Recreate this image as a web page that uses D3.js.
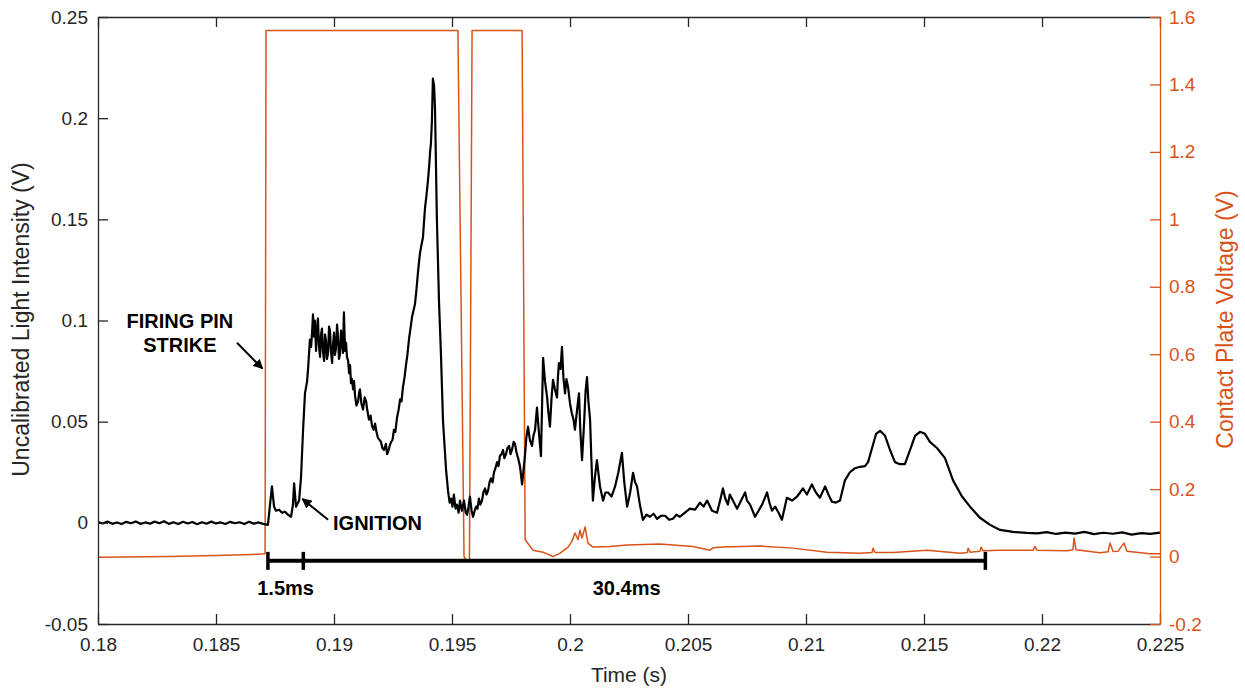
<!DOCTYPE html>
<html>
<head>
<meta charset="utf-8">
<script src="https://cdn.jsdelivr.net/npm/d3@7"></script>
<style>
  html, body { margin: 0; padding: 0; background: #fff; }
  svg { display: block; }
  text { font-family: "Liberation Sans", Arial, Helvetica, sans-serif; }
</style>
</head>
<body>
<svg id="chart" width="1245" height="688"></svg>
<script>
// ---- data ---------------------------------------------------------------
// time axis (s)
const timeTicks = [0.18, 0.185, 0.19, 0.195, 0.2, 0.205, 0.21, 0.215, 0.22, 0.225];
const lightTicks = [-0.05, 0, 0.05, 0.1, 0.15, 0.2, 0.25];
const plateTicks = [-0.2, 0, 0.2, 0.4, 0.6, 0.8, 1, 1.2, 1.4, 1.6];

// photodiode output: [time (s), uncalibrated light intensity (V)]
const lightTrace = [
  [0.1800, 0.0004], [0.1802, -0.0003], [0.1804, 0.0006], [0.1806, -0.0005], [0.1808, 0.0002],
  [0.1810, -0.0006], [0.1812, 0.0005], [0.1814, -0.0002], [0.1816, 0.0007], [0.1818, -0.0005],
  [0.1820, 0.0002], [0.1822, -0.0004], [0.1824, 0.0006], [0.1826, -0.0002], [0.1828, 0.0008],
  [0.1830, -0.0005], [0.1832, 0.0003], [0.1834, -0.0006], [0.1836, 0.0005], [0.1838, -0.0003],
  [0.1840, 0.0004], [0.1842, -0.0007], [0.1844, 0.0003], [0.1846, -0.0004], [0.1848, 0.0006],
  [0.1850, -0.0003], [0.1852, 0.0002], [0.1854, -0.0006], [0.1856, 0.0005], [0.1858, -0.0002],
  [0.1860, 0.0003], [0.1862, -0.0006], [0.1864, 0.0005], [0.1866, -0.0004], [0.1868, 0.0002],
  [0.1870, -0.0005], [0.18720, -0.0010],
  [0.18737, 0.0180], [0.18746, 0.0080], [0.18754, 0.0060], [0.18767, 0.0065], [0.18780, 0.0050],
  [0.18792, 0.0055], [0.18805, 0.0040], [0.18818, 0.0030], [0.18826, 0.0090], [0.18831, 0.0195],
  [0.18839, 0.0080], [0.18852, 0.0110], [0.18860, 0.0220], [0.18869, 0.0460], [0.18877, 0.0640],
  [0.18886, 0.0700], [0.18890, 0.0760], [0.18898, 0.0905], [0.18903, 0.0870], [0.18907, 0.0940],
  [0.18911, 0.1030], [0.18915, 0.0920], [0.18919, 0.1000], [0.18924, 0.0850], [0.18928, 0.0960],
  [0.18932, 0.1010], [0.18936, 0.0880], [0.18941, 0.0820], [0.18945, 0.0930], [0.18949, 0.0960],
  [0.18953, 0.0850], [0.18958, 0.0800], [0.18962, 0.0930], [0.18966, 0.0900], [0.18970, 0.0810],
  [0.18975, 0.0840], [0.18979, 0.0970], [0.18983, 0.0950], [0.18987, 0.0850], [0.18992, 0.0790],
  [0.18996, 0.0880], [0.19000, 0.0940], [0.19004, 0.0830], [0.19008, 0.0860], [0.19013, 0.0980],
  [0.19017, 0.0920], [0.19021, 0.0810], [0.19025, 0.0830], [0.19030, 0.0950], [0.19034, 0.0900],
  [0.19038, 0.0840], [0.19042, 0.1040], [0.19047, 0.0850], [0.19051, 0.0890], [0.19055, 0.0820],
  [0.19060, 0.0800], [0.19064, 0.0740], [0.19068, 0.0780], [0.19072, 0.0690], [0.19076, 0.0710],
  [0.19081, 0.0660], [0.19085, 0.0700], [0.19089, 0.0630], [0.19095, 0.0580], [0.19102, 0.0600],
  [0.19106, 0.0640], [0.19110, 0.0660], [0.19116, 0.0590], [0.19123, 0.0560], [0.19130, 0.0620],
  [0.19136, 0.0600], [0.19142, 0.0550], [0.19148, 0.0510], [0.19155, 0.0530], [0.19161, 0.0480],
  [0.19168, 0.0460], [0.19174, 0.0490], [0.19180, 0.0450], [0.19186, 0.0420], [0.19193, 0.0410],
  [0.19199, 0.0400], [0.19205, 0.0370], [0.19212, 0.0360], [0.19220, 0.0390], [0.19225, 0.0340],
  [0.19229, 0.0350], [0.19236, 0.0380], [0.19242, 0.0400], [0.19248, 0.0410], [0.19254, 0.0460],
  [0.19260, 0.0450], [0.19267, 0.0520], [0.19274, 0.0560], [0.19280, 0.0610], [0.19286, 0.0600],
  [0.19292, 0.0670], [0.19299, 0.0720], [0.19305, 0.0780], [0.19311, 0.0830], [0.19318, 0.0910],
  [0.19324, 0.0960], [0.19331, 0.1020], [0.19337, 0.1050], [0.19343, 0.1080], [0.19350, 0.1160],
  [0.19356, 0.1240], [0.19364, 0.1330], [0.19370, 0.1370], [0.19377, 0.1410], [0.19381, 0.1480],
  [0.19386, 0.1560], [0.19392, 0.1620], [0.19398, 0.1690], [0.19403, 0.1760], [0.19407, 0.1830],
  [0.19411, 0.1880], [0.19415, 0.1990], [0.19419, 0.2195], [0.19424, 0.2160], [0.19428, 0.2050],
  [0.19436, 0.1500], [0.19445, 0.1090], [0.19453, 0.0840], [0.19462, 0.0500], [0.19475, 0.0260],
  [0.19483, 0.0160], [0.19490, 0.0100], [0.19496, 0.0120], [0.19502, 0.0080], [0.19508, 0.0140],
  [0.19515, 0.0070], [0.19521, 0.0090], [0.19528, 0.0050], [0.19534, 0.0110], [0.19542, 0.0060],
  [0.19551, 0.0110], [0.19558, 0.0050], [0.19564, 0.0040], [0.19570, 0.0080], [0.19576, 0.0130],
  [0.19583, 0.0060], [0.19589, 0.0030], [0.19596, 0.0060], [0.19602, 0.0080], [0.19608, 0.0070],
  [0.19614, 0.0120], [0.19620, 0.0090], [0.19627, 0.0110], [0.19633, 0.0150], [0.19640, 0.0170],
  [0.19646, 0.0140], [0.19653, 0.0160], [0.19659, 0.0200], [0.19665, 0.0220], [0.19672, 0.0200],
  [0.19678, 0.0250], [0.19684, 0.0270], [0.19691, 0.0300], [0.19697, 0.0280], [0.19703, 0.0330],
  [0.19710, 0.0340], [0.19716, 0.0360], [0.19722, 0.0320], [0.19729, 0.0340], [0.19735, 0.0370],
  [0.19742, 0.0380], [0.19748, 0.0340], [0.19754, 0.0360], [0.19761, 0.0400], [0.19767, 0.0390],
  [0.19773, 0.0350], [0.19780, 0.0320], [0.19788, 0.0280], [0.19797, 0.0190], [0.19803, 0.0260],
  [0.19809, 0.0330], [0.19815, 0.0420], [0.19822, 0.0475], [0.19830, 0.0410], [0.19839, 0.0380],
  [0.19845, 0.0430], [0.19852, 0.0460], [0.19860, 0.0570], [0.19868, 0.0450], [0.19877, 0.0330],
  [0.19882, 0.0600], [0.19886, 0.0816], [0.19894, 0.0700], [0.19903, 0.0620], [0.19909, 0.0540],
  [0.19915, 0.0475], [0.19922, 0.0620], [0.19928, 0.0707], [0.19936, 0.0660], [0.19945, 0.0620],
  [0.19949, 0.0720], [0.19953, 0.0790], [0.19960, 0.0760], [0.19966, 0.0870], [0.19972, 0.0720],
  [0.19979, 0.0640], [0.19985, 0.0710], [0.19992, 0.0670], [0.20000, 0.0590], [0.20008, 0.0540],
  [0.20015, 0.0510], [0.20021, 0.0460], [0.20030, 0.0560], [0.20038, 0.0640], [0.20044, 0.0450],
  [0.20051, 0.0310], [0.20060, 0.0500], [0.20066, 0.0650], [0.20072, 0.0720], [0.20078, 0.0600],
  [0.20085, 0.0510], [0.20091, 0.0300], [0.20097, 0.0110], [0.20105, 0.0220], [0.20114, 0.0310],
  [0.20127, 0.0180], [0.20140, 0.0110], [0.20150, 0.0150], [0.20161, 0.0150], [0.20176, 0.0130],
  [0.20191, 0.0180], [0.20205, 0.0250], [0.20220, 0.0346], [0.20230, 0.0200], [0.20242, 0.0080],
  [0.20255, 0.0150], [0.20267, 0.0247], [0.20276, 0.0200], [0.20284, 0.0180], [0.20296, 0.0090],
  [0.20309, 0.0015], [0.20324, 0.0040], [0.20339, 0.0030], [0.20354, 0.0045], [0.20369, 0.0020],
  [0.20386, 0.0035], [0.20403, 0.0035], [0.20420, 0.0015], [0.20436, 0.0020], [0.20451, 0.0040],
  [0.20466, 0.0030], [0.20487, 0.0050], [0.20508, 0.0070], [0.20530, 0.0065], [0.20551, 0.0100],
  [0.20566, 0.0080], [0.20581, 0.0110], [0.20602, 0.0060], [0.20623, 0.0050], [0.20636, 0.0110],
  [0.20648, 0.0170], [0.20658, 0.0120], [0.20669, 0.0090], [0.20677, 0.0140], [0.20686, 0.0120],
  [0.20708, 0.0070], [0.20725, 0.0110], [0.20742, 0.0150], [0.20750, 0.0110], [0.20763, 0.0090],
  [0.20784, 0.0030], [0.20799, 0.0060], [0.20814, 0.0090], [0.20835, 0.0150], [0.20845, 0.0100],
  [0.20856, 0.0060], [0.20869, 0.0080], [0.20884, 0.0050], [0.20898, 0.0015], [0.20919, 0.0124],
  [0.20941, 0.0110], [0.20962, 0.0130], [0.20975, 0.0150], [0.20987, 0.0170], [0.21004, 0.0140],
  [0.21025, 0.0190], [0.21042, 0.0150], [0.21059, 0.0124], [0.21081, 0.0180], [0.21095, 0.0140],
  [0.21110, 0.0104], [0.21127, 0.0100], [0.21144, 0.0110], [0.21165, 0.0210], [0.21186, 0.0250],
  [0.21208, 0.0270], [0.21229, 0.0277], [0.21250, 0.0280], [0.21263, 0.0300], [0.21280, 0.0370],
  [0.21297, 0.0440], [0.21314, 0.0455], [0.21335, 0.0430], [0.21356, 0.0360], [0.21377, 0.0300],
  [0.21398, 0.0290], [0.21419, 0.0290], [0.21441, 0.0360], [0.21462, 0.0430], [0.21483, 0.0450],
  [0.21504, 0.0440], [0.21525, 0.0400], [0.21555, 0.0370], [0.21589, 0.0320], [0.21623, 0.0210],
  [0.21661, 0.0130], [0.21695, 0.0080], [0.21737, 0.0025], [0.21780, -0.0010], [0.21822, -0.0035],
  [0.21877, -0.0045], [0.21936, -0.0050], [0.2198, -0.0052], [0.2202, -0.0046], [0.2206, -0.0055],
  [0.2210, -0.0048], [0.2214, -0.0053], [0.2218, -0.0045], [0.2222, -0.0056], [0.2226, -0.0049],
  [0.2230, -0.0054], [0.2234, -0.0047], [0.2238, -0.0058], [0.2242, -0.0051], [0.2246, -0.0055],
  [0.2250, -0.0048]
];

// contact plate: [time (s), voltage (V)]
const plateTrace = [
  [0.1800, -0.002], [0.1830, 0.000], [0.1850, 0.003], [0.1865, 0.006], [0.18708, 0.008],
  [0.18712, 1.56], [0.19525, 1.56], [0.19551, 0.000], [0.19560, -0.010], [0.19574, -0.010],
  [0.19585, 1.56], [0.19797, 1.56], [0.19810, 0.050], [0.19843, 0.019], [0.19886, 0.013],
  [0.19928, 0.000], [0.19958, 0.010], [0.19992, 0.028], [0.20008, 0.045], [0.20021, 0.070],
  [0.20034, 0.050], [0.20042, 0.078], [0.20051, 0.055], [0.20064, 0.0875], [0.20076, 0.040],
  [0.20097, 0.028], [0.20169, 0.030], [0.20242, 0.034], [0.20381, 0.037], [0.20521, 0.030],
  [0.20593, 0.019], [0.20606, 0.026], [0.20648, 0.028], [0.20805, 0.031], [0.20945, 0.025],
  [0.21089, 0.013], [0.21229, 0.010], [0.21280, 0.012], [0.21284, 0.025], [0.21292, 0.012],
  [0.21369, 0.012], [0.21513, 0.019], [0.21653, 0.010], [0.21683, 0.012], [0.21687, 0.025],
  [0.21695, 0.013], [0.21737, 0.016], [0.21742, 0.028], [0.21750, 0.017], [0.21822, 0.019],
  [0.21962, 0.019], [0.21970, 0.030], [0.21979, 0.019], [0.22106, 0.017], [0.22131, 0.020],
  [0.22136, 0.055], [0.22144, 0.020], [0.22246, 0.011], [0.22280, 0.014], [0.22288, 0.040],
  [0.22301, 0.015], [0.22322, 0.016], [0.22347, 0.040], [0.22360, 0.016], [0.22458, 0.008],
  [0.22500, 0.008]
];

// timing bracket: firing pin strike time (s) and durations (ms)
const strikeTime = 0.1872;
const intervalsMs = [1.5, 30.4];

// ---- layout -------------------------------------------------------------
const plot = { left: 98, right: 1160, top: 17, bottom: 624 };
const ink = "#262626";
const orange = "#D95319";

const svg = d3.select("#chart");

const x = d3.scaleLinear().domain([0.18, 0.225]).range([plot.left, plot.right]);
const yL = d3.scaleLinear().domain([-0.05, 0.25]).range([plot.bottom, plot.top]);
const yR = d3.scaleLinear().domain([-0.2, 1.6]).range([plot.bottom, plot.top]);

// plain tick numbers with an ASCII minus sign
const fmt = d => String(+d.toFixed(4));

const defs = svg.append("defs");
defs.append("clipPath").attr("id", "plotClip")
  .append("rect")
  .attr("x", plot.left).attr("y", plot.top)
  .attr("width", plot.right - plot.left).attr("height", plot.bottom - plot.top);

defs.append("marker")
  .attr("id", "arrowHead")
  .attr("viewBox", "0 0 10 10")
  .attr("refX", 9).attr("refY", 5)
  .attr("markerWidth", 5).attr("markerHeight", 5)
  .attr("markerUnits", "strokeWidth")
  .attr("orient", "auto")
  .append("path").attr("d", "M0,0 L10,5 L0,10 z").attr("fill", "#000");

// ---- traces -------------------------------------------------------------
const traces = svg.append("g").attr("clip-path", "url(#plotClip)");

traces.append("path")
  .datum(plateTrace)
  .attr("fill", "none")
  .attr("stroke", orange)
  .attr("stroke-width", 1.5)
  .attr("stroke-linejoin", "round")
  .attr("d", d3.line().x(d => x(d[0])).y(d => yR(d[1])));

traces.append("path")
  .datum(lightTrace)
  .attr("fill", "none")
  .attr("stroke", "#000")
  .attr("stroke-width", 2.2)
  .attr("stroke-linejoin", "round")
  .attr("d", d3.line().x(d => x(d[0])).y(d => yL(d[1])));

// ---- axes ---------------------------------------------------------------
const tickLen = 10;

const styleAxis = (g, color) => {
  g.select(".domain").attr("stroke", color).attr("stroke-width", 1.3);
  g.selectAll(".tick line").attr("stroke", color).attr("stroke-width", 1.3);
  g.selectAll(".tick text").attr("fill", color).attr("font-size", 19)
    .attr("font-family", "Liberation Sans, Arial, sans-serif");
};

svg.append("g")
  .attr("transform", `translate(0,${plot.bottom})`)
  .call(d3.axisBottom(x).tickValues(timeTicks).tickFormat(fmt)
    .tickSizeInner(-tickLen).tickSizeOuter(0).tickPadding(14))
  .call(g => styleAxis(g, ink));

svg.append("g")
  .attr("transform", `translate(0,${plot.top})`)
  .call(d3.axisTop(x).tickValues(timeTicks).tickFormat("")
    .tickSizeInner(-tickLen).tickSizeOuter(0))
  .call(g => styleAxis(g, ink));

svg.append("g")
  .attr("transform", `translate(${plot.left},0)`)
  .call(d3.axisLeft(yL).tickValues(lightTicks).tickFormat(fmt)
    .tickSizeInner(-tickLen).tickSizeOuter(0).tickPadding(10))
  .call(g => styleAxis(g, ink));

svg.append("g")
  .attr("transform", `translate(${plot.right},0)`)
  .call(d3.axisRight(yR).tickValues(plateTicks).tickFormat(fmt)
    .tickSizeInner(-tickLen).tickSizeOuter(0).tickPadding(9))
  .call(g => styleAxis(g, orange));

// axis titles
const midY = (plot.top + plot.bottom) / 2 - 1;

svg.append("text")
  .attr("x", (plot.left + plot.right) / 2).attr("y", 682)
  .attr("text-anchor", "middle").attr("font-size", 21).attr("fill", ink)
  .text("Time (s)");

svg.append("text")
  .attr("transform", `translate(29,${midY}) rotate(-90)`)
  .attr("text-anchor", "middle").attr("font-size", 23).attr("fill", ink)
  .text("Uncalibrated Light Intensity (V)");

svg.append("text")
  .attr("transform", `translate(1233,${midY}) rotate(-90)`)
  .attr("text-anchor", "middle").attr("font-size", 23).attr("fill", orange)
  .text("Contact Plate Voltage (V)");

// ---- annotations ----------------------------------------------------------
const notes = svg.append("g").attr("font-weight", "bold").attr("font-size", 20).attr("fill", "#000");

notes.append("text").attr("x", x(0.18347)).attr("y", yL(0.0964))
  .attr("text-anchor", "middle").text("FIRING PIN");
notes.append("text").attr("x", x(0.18347)).attr("y", yL(0.0845))
  .attr("text-anchor", "middle").text("STRIKE");

notes.append("line")
  .attr("x1", x(0.18589)).attr("y1", yL(0.089))
  .attr("x2", x(0.18697)).attr("y2", yL(0.0762))
  .attr("stroke", "#000").attr("stroke-width", 2)
  .attr("marker-end", "url(#arrowHead)");

notes.append("text").attr("x", x(0.18996)).attr("y", yL(-0.0035))
  .attr("text-anchor", "start").text("IGNITION");

notes.append("line")
  .attr("x1", x(0.18975)).attr("y1", yL(0.0015))
  .attr("x2", x(0.18866)).attr("y2", yL(0.0118))
  .attr("stroke", "#000").attr("stroke-width", 2)
  .attr("marker-end", "url(#arrowHead)");

// timing bracket: strike, ignition (strike + 1.5 ms), end (strike + 30.4 ms)
const bracketV = -0.0188;
const marks = [strikeTime, ...intervalsMs.map(ms => strikeTime + ms / 1000)];
const yb = yL(bracketV);
notes.append("line")
  .attr("x1", x(marks[0])).attr("x2", x(marks[2]))
  .attr("y1", yb).attr("y2", yb)
  .attr("stroke", "#000").attr("stroke-width", 4);
notes.selectAll("line.cap").data(marks).join("line")
  .attr("class", "cap")
  .attr("x1", d => x(d)).attr("x2", d => x(d))
  .attr("y1", yb - 9).attr("y2", yb + 9)
  .attr("stroke", "#000").attr("stroke-width", 3.5);

notes.append("text")
  .attr("x", (x(marks[0]) + x(marks[1])) / 2).attr("y", yb + 34)
  .attr("text-anchor", "middle").text(`${intervalsMs[0]}ms`);
notes.append("text")
  .attr("x", (x(marks[0]) + x(marks[2])) / 2).attr("y", yb + 34)
  .attr("text-anchor", "middle").text(`${intervalsMs[1]}ms`);
</script>
</body>
</html>
